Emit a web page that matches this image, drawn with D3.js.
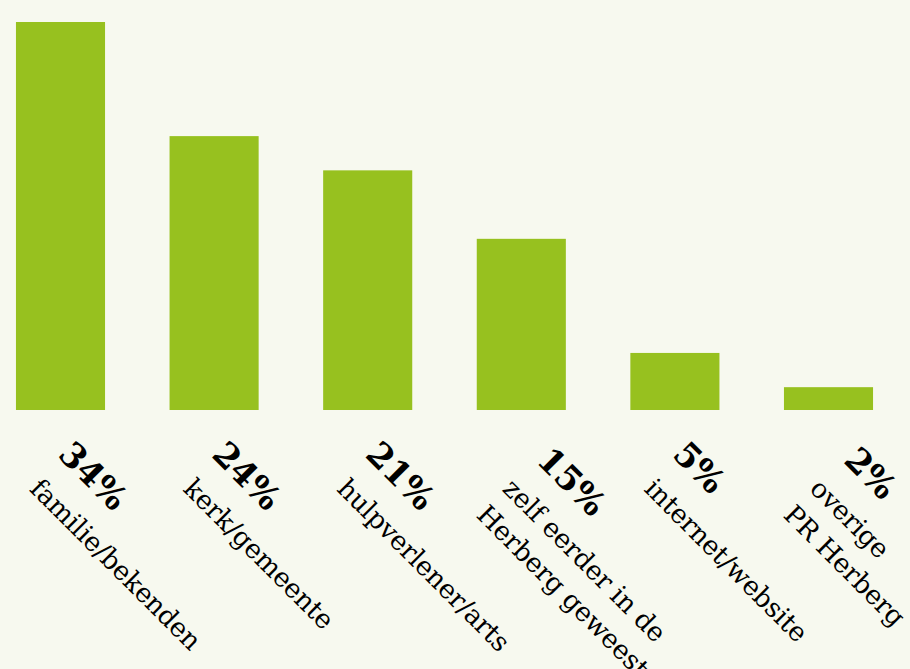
<!DOCTYPE html>
<html>
<head>
<meta charset="utf-8">
<script src="https://cdn.jsdelivr.net/npm/d3@7"></script>
<style>
  html, body { margin: 0; padding: 0; background: #f7f9ef; }
  svg { display: block; }
</style>
</head>
<body>
<div id="chart"></div>
<script>
// data
const categories = ['familie/bekenden', 'kerk/gemeente', 'hulpverlener/arts',
  'zelf eerder in de|Herberg geweest', 'internet/website', 'overige|PR Herberg'];
const values = [34, 24, 21, 15, 5, 2];
const percentLabels = ['34%', '24%', '21%', '15%', '5%', '2%'];

const width = 910;
const height = 669;
const baseline = 410;

const svg = d3.select('#chart')
  .append('svg')
  .attr('width', width)
  .attr('height', height);

svg.append('rect')
  .attr('width', width)
  .attr('height', height)
  .attr('fill', '#f7f9ef');

const x = d3.scaleBand()
  .domain(categories)
  .range([-16.3, 905.3])
  .paddingInner(0.42)
  .paddingOuter(0.21);

const y = d3.scaleLinear()
  .domain([0, 34])
  .range([baseline, 22]);

svg.selectAll('.bar')
  .data(values)
  .enter().append('rect')
  .attr('class', 'bar')
  .attr('x', (d, i) => x(categories[i]))
  .attr('y', d => y(d))
  .attr('width', x.bandwidth())
  .attr('height', d => y(0) - y(d))
  .attr('fill', '#97c11f');

// rotated labels under each bar; labels with an extra line sit further right
const lineHeight = 37;
const labels = svg.selectAll('.label')
  .data(categories)
  .enter().append('text')
  .attr('class', 'label')
  .attr('transform', d => {
    const extra = d.split('|').length - 1;
    const cx = x(d) + x.bandwidth() / 2 - 32 + extra * 12;
    return `translate(${cx}, 490) rotate(45)`;
  })
  .attr('fill', '#000');

labels.append('tspan')
  .attr('x', d => -4 + (d.includes('|') ? 8 : 0))
  .attr('y', -44)
  .attr('font-family', '"DejaVu Serif", serif')
  .attr('font-weight', 'bold')
  .attr('font-size', 34)
  .text((d, i) => percentLabels[i]);

labels.each(function(d) {
  const t = d3.select(this);
  d.split('|').forEach((line, j) => {
    t.append('tspan')
      .attr('x', 0)
      .attr('y', j * lineHeight)
      .attr('font-family', '"DejaVu Serif", serif')
      .attr('font-size', 26.5)
      .attr('letter-spacing', -0.2)
      .text(line);
  });
});
</script>
</body>
</html>
